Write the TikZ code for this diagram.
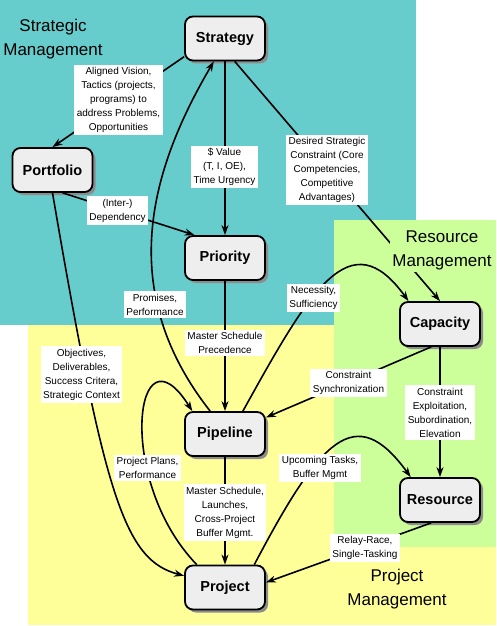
\documentclass[tikz,border=0pt]{standalone}
\usepackage{fontspec}
\setmainfont{Liberation Sans}
\usetikzlibrary{arrows.meta, shadows, positioning}

\definecolor{strategic}{HTML}{66CCCC}
\definecolor{resourcebg}{HTML}{CCFF99}
\definecolor{projectbg}{HTML}{FFFF99}
\definecolor{boxgray}{HTML}{EEEEEE}

\begin{document}
\begin{tikzpicture}
    %defining some styles
    [
        x=1pt, y=-1pt,
        box/.style={rectangle, rounded corners=8pt, draw=black, line width=1.8pt, fill=boxgray, minimum width=80pt, minimum height=44pt, font=\fontsize{14.5}{17}\selectfont\bfseries, drop shadow={shadow xshift=3pt, shadow yshift=-3pt, fill=black!45, opacity=1}},
        tag/.style={fill=white, inner sep=2.5pt, align=center, font=\fontsize{10}{14}\selectfont},
        area/.style={align=center, inner sep=2pt, font=\fontsize{17}{24}\selectfont},
        link/.style={line width=1.6pt, -{Stealth[length=10pt, width=7pt]}},
    ]
    \useasboundingbox (0,0) rectangle (496,626);

    % areas
    \fill[strategic] (0,0) rectangle (416,325);
    \fill[projectbg] (28,325) rectangle (496,625);
    \fill[resourcebg] (334,220) rectangle (496,547);

    % boxes
    \node (strategy) at (225,38.5) [box] {Strategy};
    \node (portfolio) at (52.5,170) [box] {Portfolio};
    \node (priority) at (225,258) [box] {Priority};
    \node (capacity) at (440,324) [box] {Capacity};
    \node (pipeline) at (225,434) [box] {Pipeline};
    \node (resource) at (440,500) [box] {Resource};
    \node (project) at (225,587.5) [box] {Project};

    % connectors
    \draw[link] (strategy.204) -- (portfolio.north);
    \draw[link] (strategy.south) -- (priority.north);
    \draw[link] (strategy.293) -- (capacity.north);
    \draw[link] (portfolio.294) -- (priority.143);
    \draw[link] (portfolio.south) .. controls (105,500) and (125,560) .. (project.164);
    \draw[link] (pipeline.123) .. controls (115,290) and (150,170) .. (strategy.244);
    \draw[link] (priority.south) -- (pipeline.north);
    \draw[link] (project.141) .. controls (115,480) and (135,320) .. (pipeline.145);
    \draw[link] (pipeline.52) .. controls (310,290) and (350,220) .. (capacity.144);
    \draw[link] (capacity.249) -- (pipeline.22);
    \draw[link] (capacity.south) -- (resource.north);
    \draw[link] (pipeline.south) -- (project.north);
    \draw[link] (project.38) .. controls (320,440) and (355,400) .. (resource.142);
    \draw[link] (resource.249) -- (project.7);

    % connector labels
    \node (vision) at (118.5,100) [tag] {Aligned Vision,\\Tactics (projects,\\programs) to\\address Problems,\\Opportunities};
    \node (value) at (224.5,167) [tag] {\$ Value\\(T, I, OE),\\Time Urgency};
    \node (desired) at (327,170) [tag] {Desired Strategic\\Constraint (Core\\Competencies,\\Competitive\\Advantages)};
    \node (depend) at (117.5,210.5) [tag] {(Inter-)\\Dependency};
    \node (promises) at (155,304.5) [tag] {Promises,\\Performance};
    \node (precedence) at (225,343) [tag] {Master Schedule\\Precedence};
    \node (objectives) at (81.5,374.5) [tag] {Objectives,\\Deliverables,\\Success Critera,\\Strategic Context};
    \node (necessity) at (313.5,298) [tag] {Necessity,\\Sufficiency};
    \node (sync) at (348.5,383) [tag] {Constraint\\Synchronization};
    \node (exploit) at (440,412.5) [tag] {Constraint\\Exploitation,\\Subordination,\\Elevation};
    \node (plans) at (147.5,468) [tag] {Project Plans,\\Performance};
    \node (launches) at (225,512.5) [tag] {Master Schedule,\\Launches,\\Cross-Project\\Buffer Mgmt.};
    \node (upcoming) at (320,468) [tag] {Upcoming Tasks,\\Buffer Mgmt};
    \node (relay) at (365,548) [tag] {Relay-Race,\\Single-Tasking};

    % area titles
    \node (stratTitle) at (53,39) [area] {Strategic\\Management};
    \node (resTitle) at (442,250) [area, fill=resourcebg] {Resource\\Management};
    \node (projTitle) at (397,589) [area] {Project\\Management};
\end{tikzpicture}
\end{document}
